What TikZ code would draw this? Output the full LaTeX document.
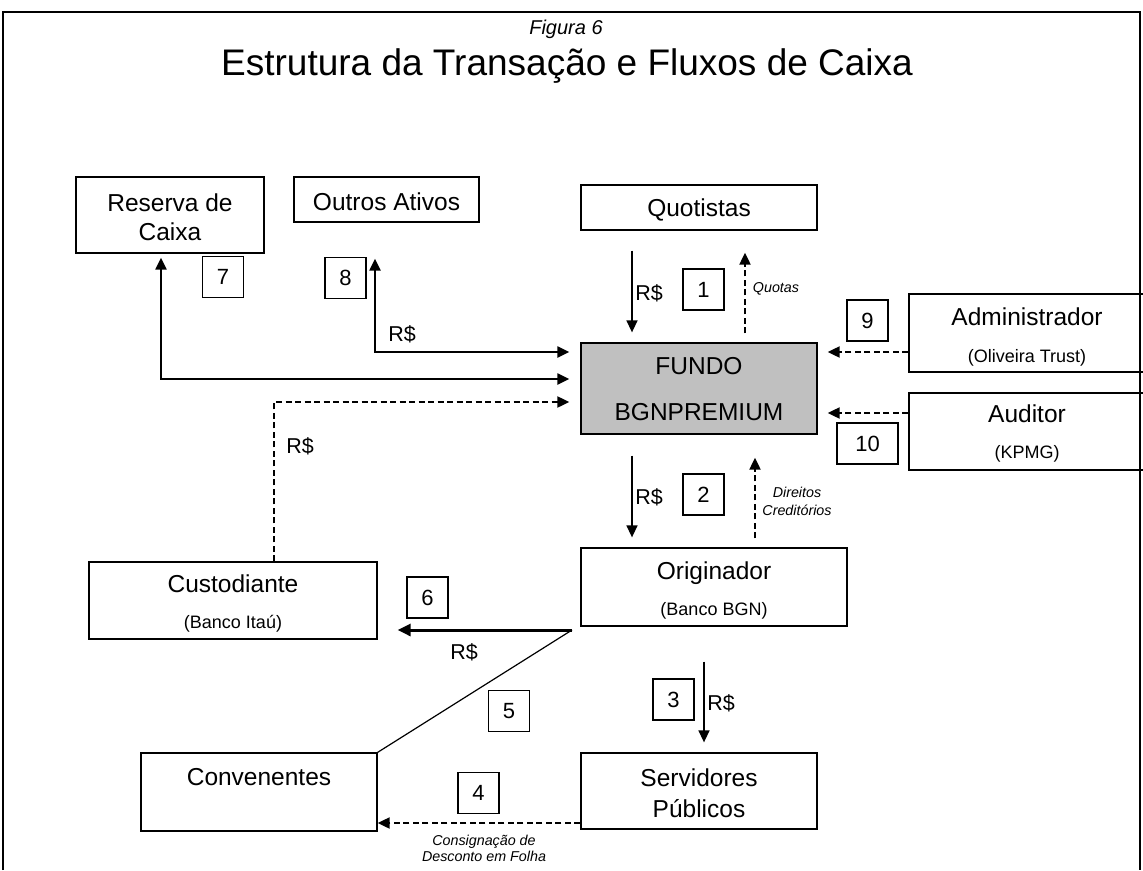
\documentclass[tikz,border=0pt]{standalone}
\usepackage{fontspec}
\setmainfont{Liberation Sans}
\usetikzlibrary{arrows.meta}
\definecolor{fundgray}{RGB}{192,192,192}
\begin{document}
\begin{tikzpicture}[x=1pt,y=-1pt,
  bx/.style={draw, line width=1.3pt, inner sep=0pt},
  txt/.style={inner sep=0pt, text height=17.5pt, text depth=0pt, font=\fontsize{24.5}{29}\selectfont},
  sub/.style={inner sep=0pt, text height=12.9pt, text depth=0pt, font=\fontsize{18}{21}\selectfont},
  small/.style={inner sep=0pt, text height=10.2pt, text depth=0pt, font=\fontsize{14.3}{17}\selectfont\itshape},
  rs/.style={inner sep=0pt, text height=15.4pt, text depth=0pt, font=\fontsize{21.5}{25}\selectfont},
  num/.style={draw, line width=1.2pt, minimum width=41pt, minimum height=41pt, inner sep=0pt, font=\fontsize{22}{26}\selectfont},
  tip/.style={-{Triangle[length=12pt,width=11pt]}},
  sol/.style={line width=1.5pt, tip},
  dsh/.style={line width=2pt, dash pattern=on 6pt off 3.5pt, tip},
  dbl/.style={line width=2.2pt, {Triangle[length=12pt,width=11pt]}-{Triangle[length=12pt,width=11pt]}},
  heavy/.style={line width=3pt, -{Triangle[length=13pt,width=12pt]}}
]
\useasboundingbox (0,0) rectangle (1143,870);
% frame
\draw[line width=1.5pt] (3,870) -- (3,12) -- (1140,12) -- (1140,870);

% titles
\node[inner sep=0pt, text height=14.3pt, text depth=0pt, font=\fontsize{20}{24}\selectfont\itshape] (fig) at (566,27) {Figura 6};
\node[inner sep=0pt, text height=26.5pt, text depth=0pt, font=\fontsize{37}{44}\selectfont] (title) at (567,62) {Estrutura da Transação e Fluxos de Caixa};

% main boxes
\node[bx, minimum width=188pt, minimum height=76pt] (res) at (170,215) {};
\node[txt] (resA) at (170,203) {Reserva de};
\node[txt] (resB) at (170,232) {Caixa};

\node[bx, minimum width=185pt, minimum height=45pt] (out) at (386.5,199.5) {};
\node[txt] (outA) at (386.5,202) {Outros Ativos};

\node[bx, minimum width=236pt, minimum height=45pt] (quot) at (699,207.5) {};
\node[txt] (quotA) at (699,208) {Quotistas};

\node[bx, fill=fundgray, minimum width=236pt, minimum height=91pt] (fund) at (699,388.5) {};
\node[txt] (fundA) at (699,366) {FUNDO};
\node[txt] (fundB) at (699,412) {BGNPREMIUM};

\node[bx, minimum width=236pt, minimum height=78pt] (admin) at (1027,333) {};
\node[txt] (adminA) at (1027,317) {Administrador};
\node[sub] (adminB) at (1027,356) {(Oliveira Trust)};

\node[bx, minimum width=236pt, minimum height=77pt] (aud) at (1027,431.5) {};
\node[txt] (audA) at (1027,414) {Auditor};
\node[sub] (audB) at (1027,452) {(KPMG)};

\node[bx, minimum width=266pt, minimum height=78pt] (orig) at (714,587) {};
\node[txt] (origA) at (714,571) {Originador};
\node[sub] (origB) at (714,609) {(Banco BGN)};

\node[bx, minimum width=288pt, minimum height=77pt] (cust) at (233,600.5) {};
\node[txt] (custA) at (233,584) {Custodiante};
\node[sub] (custB) at (233,622) {(Banco Itaú)};

\node[bx, minimum width=236pt, minimum height=76pt] (serv) at (699,791) {};
\node[txt] (servA) at (699,778) {Servidores};
\node[txt] (servB) at (699,809) {Públicos};

\node[bx, minimum width=236pt, minimum height=78pt] (conv) at (259,792) {};
\node[txt] (convA) at (259,777) {Convenentes};

% number boxes
\node[num] (n1) at (703.5,289.5) {1};
\node[num] (n2) at (703.5,494.5) {2};
\node[num] (n3) at (673.5,699.5) {3};
\node[num] (n4) at (478.5,793) {4};
\node[num] (n5) at (509,711) {5};
\node[num] (n6) at (427.5,597.5) {6};
\node[num] (n7) at (223,277) {7};
\node[num] (n8) at (345.5,278) {8};
\node[num] (n9) at (867.5,320.5) {9};
\node[num, minimum width=61pt] (n10) at (867.5,443.5) {10};

% labels
\node[rs] (rs1) at (649,293) {R\$};
\node[rs] (rs2) at (649,497) {R\$};
\node[rs] (rs3) at (721,703) {R\$};
\node[rs] (rs4) at (300,446) {R\$};
\node[rs] (rs5) at (464,652) {R\$};
\node[rs] (rs6) at (402,334) {R\$};
\node[small] (lq) at (776,287) {Quotas};
\node[small] (ld1) at (797,492) {Direitos};
\node[small] (ld2) at (797,510) {Creditórios};
\node[small] (lc1) at (484,840) {Consignação de};
\node[small] (lc2) at (484,856) {Desconto em Folha};

% connectors
\draw[sol, shorten <=20pt, shorten >=10pt] (quot.south -| 632,0) -- (fund.north -| 632,0);
\draw[dsh, shorten <=9pt, shorten >=22pt] (fund.north -| 745,0) -- (quot.south -| 745,0);
\draw[sol, shorten <=21pt, shorten >=10pt] (fund.south -| 632,0) -- (orig.north -| 632,0);
\draw[dsh, shorten <=9pt, shorten >=23pt] (orig.north -| 755,0) -- (fund.south -| 755,0);
\draw[sol, shorten <=35pt, shorten >=10pt] (orig.south -| 704,0) -- (serv.north -| 704,0);
\draw[dsh] (serv.west |- 0,823) -- (conv.east |- 0,823);
\coordinate (split) at (572,630);
\draw[heavy, shorten >=20pt] (split) -- (cust.east |- split);
\draw[line width=1.2pt] (split) -- (conv.north east);
\draw[dsh, shorten >=11pt] (cust.north -| 274,0) |- (fund.west |- 0,402);
\draw[dbl, shorten <=4pt, shorten >=11pt] (res.south -| 161,0) |- (fund.west |- 0,379);
\draw[dbl, shorten <=36pt, shorten >=11pt] (out.south -| 375,0) |- (fund.west |- 0,352);
\draw[dsh, shorten >=10pt] (admin.west |- 0,352) -- (fund.east |- 0,352);
\draw[dsh, shorten >=10pt] (aud.west |- 0,413) -- (fund.east |- 0,413);
\end{tikzpicture}
\end{document}
